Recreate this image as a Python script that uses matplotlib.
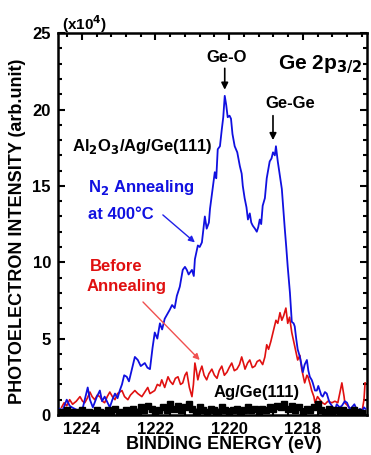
import matplotlib
matplotlib.use("Agg")
import matplotlib.pyplot as plt
from matplotlib.ticker import MultipleLocator

plt.rcParams['font.family'] = ['Liberation Sans', 'DejaVu Sans']
plt.rcParams['font.weight'] = 'bold'

# N2 annealing at 400C (blue), x1e4
blue_e = [1224.60, 1224.52, 1224.41, 1224.33, 1224.27, 1224.11, 1223.97, 1223.84, 1223.78, 1223.70,
          1223.59, 1223.51, 1223.45, 1223.38, 1223.30, 1223.24, 1223.17, 1223.10, 1223.03, 1222.97,
          1222.91, 1222.85, 1222.78, 1222.72, 1222.64, 1222.56, 1222.48, 1222.40, 1222.29, 1222.22,
          1222.15, 1222.08, 1222.02, 1221.95, 1221.88, 1221.82, 1221.75, 1221.68, 1221.61, 1221.55,
          1221.48, 1221.42, 1221.34, 1221.26, 1221.20, 1221.15, 1221.10, 1221.07, 1221.01, 1220.96,
          1220.93, 1220.85, 1220.80, 1220.74, 1220.66, 1220.61, 1220.55, 1220.52, 1220.44, 1220.39,
          1220.35, 1220.31, 1220.25, 1220.20, 1220.16, 1220.12, 1220.08, 1220.04, 1219.99, 1219.95,
          1219.91, 1219.85, 1219.78, 1219.71, 1219.66, 1219.63, 1219.58, 1219.53, 1219.49, 1219.44,
          1219.40, 1219.36, 1219.30, 1219.25, 1219.21, 1219.17, 1219.13, 1219.09, 1219.03, 1218.98,
          1218.90, 1218.85, 1218.81, 1218.76, 1218.73, 1218.68, 1218.62, 1218.57, 1218.53, 1218.49,
          1218.45, 1218.41, 1218.35, 1218.30, 1218.25, 1218.22, 1218.18, 1218.14, 1218.08, 1218.03,
          1218.00, 1217.95, 1217.89, 1217.85, 1217.81, 1217.76, 1217.73, 1217.67, 1217.62, 1217.58,
          1217.54, 1217.50, 1217.46, 1217.40, 1217.35, 1217.30, 1217.27, 1217.21, 1217.13, 1217.08,
          1217.00, 1216.94, 1216.86, 1216.80, 1216.73, 1216.67, 1216.60, 1216.51, 1216.45, 1216.38,
          1216.34, 1216.30]
blue_i = [0.4, 0.3, 1.0, 0.6, 0.5, 0.3, 0.5, 1.8, 1.0, 0.5,
          1.2, 1.6, 0.9, 1.2, 0.8, 0.5, 1.0, 1.4, 1.1, 1.6,
          2.0, 2.6, 2.5, 2.2, 3.0, 3.8, 3.6, 3.2, 3.4, 3.1,
          3.0, 4.4, 5.4, 5.0, 6.0, 5.6, 6.3, 6.6, 6.9, 7.2,
          7.0, 7.8, 8.4, 9.5, 9.7, 9.5, 9.2, 9.3, 9.5, 9.1,
          10.2, 11.1, 11.0, 11.3, 13.0, 12.2, 12.6, 13.5, 15.0, 15.9,
          15.5, 17.4, 17.6, 18.7, 19.5, 20.9, 20.3, 19.5, 19.6, 19.4,
          18.4, 17.6, 17.2, 16.3, 15.8, 15.0, 14.2, 13.6, 12.8, 13.2,
          12.6, 12.4, 12.2, 12.0, 12.3, 12.8, 12.5, 13.7, 14.2, 15.5,
          16.6, 16.8, 17.2, 17.0, 17.6, 16.6, 15.6, 14.8, 13.5, 12.2,
          11.0, 9.7, 8.0, 6.1, 6.0, 5.8, 5.0, 4.3, 3.8, 3.2,
          2.8, 3.3, 3.6, 2.9, 2.5, 2.3, 2.1, 1.6, 1.6, 1.9,
          1.6, 1.3, 1.2, 1.5, 1.4, 1.0, 0.8, 0.6, 0.3, 0.7,
          0.5, 0.6, 0.9, 0.8, 0.4, 0.5, 0.7, 0.2, 0.4, 0.3,
          0.5, 0.4]

# Before annealing (red)
red_e = [1224.55, 1224.48, 1224.41, 1224.33, 1224.25, 1224.15, 1224.05, 1223.98, 1223.92, 1223.85,
         1223.78, 1223.72, 1223.65, 1223.58, 1223.51, 1223.44, 1223.38, 1223.31, 1223.24, 1223.17,
         1223.10, 1223.03, 1222.91, 1222.84, 1222.75, 1222.68, 1222.56, 1222.48, 1222.37, 1222.29,
         1222.21, 1222.15, 1222.02, 1221.95, 1221.88, 1221.83, 1221.75, 1221.66, 1221.60, 1221.53,
         1221.46, 1221.39, 1221.32, 1221.26, 1221.20, 1221.15, 1221.08, 1221.01, 1220.97, 1220.93,
         1220.89, 1220.85, 1220.80, 1220.74, 1220.68, 1220.61, 1220.55, 1220.47, 1220.40, 1220.33,
         1220.27, 1220.20, 1220.13, 1220.06, 1220.00, 1219.93, 1219.86, 1219.79, 1219.72, 1219.66,
         1219.60, 1219.57, 1219.50, 1219.44, 1219.37, 1219.30, 1219.24, 1219.17, 1219.09, 1219.03,
         1218.98, 1218.93, 1218.87, 1218.81, 1218.73, 1218.68, 1218.62, 1218.57, 1218.52, 1218.46,
         1218.41, 1218.36, 1218.30, 1218.22, 1218.14, 1218.08, 1218.03, 1217.95, 1217.89, 1217.86,
         1217.80, 1217.76, 1217.70, 1217.67, 1217.60, 1217.54, 1217.47, 1217.40, 1217.32, 1217.21,
         1217.13, 1217.05, 1216.99, 1216.94, 1216.88, 1216.86, 1216.78, 1216.67, 1216.58, 1216.50,
         1216.40, 1216.34, 1216.31]
red_i = [0.5, 0.8, 0.6, 1.0, 0.7, 0.9, 1.2, 0.9, 0.8, 1.1,
         1.5, 1.2, 1.0, 1.3, 1.2, 0.9, 0.8, 1.2, 1.5, 1.2,
         1.0, 1.4, 1.6, 1.2, 1.0, 1.3, 1.6, 1.4, 1.2, 1.5,
         1.8, 1.4, 1.6, 2.0, 1.9, 2.3, 1.8, 2.5, 2.2, 2.0,
         2.4, 2.5, 2.0, 2.1, 2.6, 2.8, 1.8, 1.2, 2.0, 3.4,
         2.9, 2.3, 2.8, 3.2, 2.6, 2.3, 2.7, 3.0, 2.6, 2.4,
         2.9, 3.2, 2.6, 2.8, 3.1, 3.4, 2.9, 3.0, 3.3, 3.8,
         3.3, 3.0, 3.4, 3.6, 3.1, 3.2, 3.5, 3.6, 3.3, 3.8,
         4.6, 4.3, 4.8, 5.4, 6.2, 6.0, 6.7, 6.2, 6.5, 7.0,
         6.0, 6.4, 5.4, 4.5, 3.6, 3.9, 3.0, 2.1, 2.6, 2.5,
         2.0, 1.6, 1.2, 0.8, 1.2, 1.0, 0.8, 0.7, 0.9, 0.8,
         0.9, 0.8, 1.5, 2.1, 1.2, 0.8, 0.6, 0.3, 0.4, 0.2,
         0.1, 1.0, 2.1]

# Ag/Ge(111) (black)
blk_e = [1224.6, 1224.5, 1224.4, 1224.3, 1224.2, 1224.1, 1224.0, 1223.9, 1223.8, 1223.7,
         1223.6, 1223.5, 1223.4, 1223.3, 1223.2, 1223.1, 1223.0, 1222.9, 1222.8, 1222.7,
         1222.6, 1222.5, 1222.4, 1222.3, 1222.2, 1222.1, 1222.0, 1221.9, 1221.8, 1221.7,
         1221.6, 1221.5, 1221.4, 1221.3, 1221.2, 1221.1, 1221.0, 1220.9, 1220.8, 1220.7,
         1220.6, 1220.5, 1220.4, 1220.3, 1220.2, 1220.1, 1220.0, 1219.9, 1219.8, 1219.7,
         1219.6, 1219.5, 1219.4, 1219.3, 1219.2, 1219.1, 1219.0, 1218.9, 1218.8, 1218.7,
         1218.6, 1218.5, 1218.4, 1218.3, 1218.2, 1218.1, 1218.0, 1217.9, 1217.8, 1217.7,
         1217.6, 1217.5, 1217.4, 1217.3, 1217.2, 1217.1, 1217.0, 1216.9, 1216.8, 1216.7,
         1216.6, 1216.5, 1216.4]
blk_i = [0.2, 0.1, 0.3, 0.2, 0.1, 0.2, 0.3, 0.1, 0.2, 0.1,
         0.3, 0.2, 0.1, 0.3, 0.2, 0.4, 0.2, 0.1, 0.3, 0.2,
         0.4, 0.2, 0.5, 0.3, 0.6, 0.4, 0.2, 0.3, 0.5, 0.3,
         0.7, 0.4, 0.6, 0.3, 0.5, 0.7, 0.4, 0.2, 0.5, 0.3,
         0.2, 0.4, 0.3, 0.2, 0.5, 0.3, 0.2, 0.3, 0.4, 0.2,
         0.3, 0.5, 0.3, 0.4, 0.2, 0.4, 0.3, 0.5, 0.4, 0.6,
         0.5, 0.7, 0.4, 0.6, 0.3, 0.5, 0.2, 0.4, 0.3, 0.5,
         0.7, 0.3, 0.2, 0.4, 0.2, 0.3, 0.1, 0.3, 0.2, 0.1,
         0.3, 0.2, 0.1]

BLUE = '#1010e0'
RED = '#e01010'

fig = plt.figure(figsize=(3.71, 4.55), dpi=100)
ax = fig.add_axes([0.156, 0.088, 0.833, 0.839])

ax.plot(red_e, red_i, color=RED, lw=1.2, zorder=2)
ax.plot(blue_e, blue_i, color=BLUE, lw=1.3, zorder=3)
ax.plot(blk_e, blk_i, color='black', lw=2.4, marker='s', ms=4.2, zorder=4)

ax.set_xlim(1224.65, 1216.26)
ax.set_ylim(0, 25)
ax.xaxis.set_major_locator(MultipleLocator(2))
ax.xaxis.set_minor_locator(MultipleLocator(0.4))
ax.yaxis.set_major_locator(MultipleLocator(5))
ax.yaxis.set_minor_locator(MultipleLocator(1))
ax.tick_params(which='both', direction='in', top=True, right=True, width=1.5, labelsize=12)
ax.tick_params(which='major', length=5, pad=5)
ax.tick_params(which='minor', length=3)
for s in ax.spines.values():
    s.set_linewidth(1.8)
for lab in ax.get_xticklabels() + ax.get_yticklabels():
    lab.set_fontweight('bold')

ax.set_xlabel('BINDING ENERGY (eV)', fontsize=13, fontweight='bold')
ax.xaxis.set_label_coords(0.536, -0.055)
ax.set_ylabel('PHOTOELECTRON INTENSITY (arb.unit)', fontsize=13, fontweight='bold')
ax.yaxis.set_label_coords(-0.103, 0.48)

fig.text(0.167, 0.948, r'(x10$^\mathbf{4}$)', fontsize=11, fontweight='bold', ha='left', va='center')

ax.text(0.985, 0.918, r'Ge 2p$_\mathbf{3/2}$', transform=ax.transAxes, fontsize=15,
        fontweight='bold', ha='right', va='center')

ax.text(1220.06, 23.4, 'Ge-O', ha='center', va='center', fontsize=12, fontweight='bold')
ax.annotate('', xy=(1220.12, 21.3), xytext=(1220.12, 22.7),
            arrowprops=dict(arrowstyle='-|>', color='black', lw=1.2, mutation_scale=10, shrinkA=0, shrinkB=0))
ax.text(1218.35, 20.4, 'Ge-Ge', ha='center', va='center', fontsize=12, fontweight='bold')
ax.annotate('', xy=(1218.81, 18.0), xytext=(1218.81, 19.6),
            arrowprops=dict(arrowstyle='-|>', color='black', lw=1.2, mutation_scale=10, shrinkA=0, shrinkB=0))

ax.text(1224.27, 17.6, r'Al$_\mathbf{2}$O$_\mathbf{3}$/Ag/Ge(111)', fontsize=12, fontweight='bold',
        color='black', ha='left', va='center')
ax.text(1223.84, 14.9, r'N$_\mathbf{2}$ Annealing', fontsize=12, fontweight='bold',
        color=BLUE, ha='left', va='center')
ax.text(1223.84, 13.1, 'at 400°C', fontsize=12, fontweight='bold',
        color=BLUE, ha='left', va='center')
ax.annotate('', xy=(1220.93, 11.3), xytext=(1221.80, 13.1),
            arrowprops=dict(arrowstyle='-|>', color='#2020e8', lw=1.0, mutation_scale=9, shrinkA=0, shrinkB=0))
ax.text(1223.78, 9.7, 'Before', fontsize=12, fontweight='bold', color=RED, ha='left', va='center')
ax.text(1223.86, 8.4, 'Annealing', fontsize=12, fontweight='bold', color=RED, ha='left', va='center')
ax.annotate('', xy=(1220.80, 3.6), xytext=(1222.34, 7.4),
            arrowprops=dict(arrowstyle='-|>', color='#f05050', lw=1.0, mutation_scale=9, shrinkA=0, shrinkB=0))
ax.text(1219.25, 1.5, 'Ag/Ge(111)', fontsize=12, fontweight='bold', color='black', ha='center', va='center')

fig.savefig('out.png', dpi=100)
